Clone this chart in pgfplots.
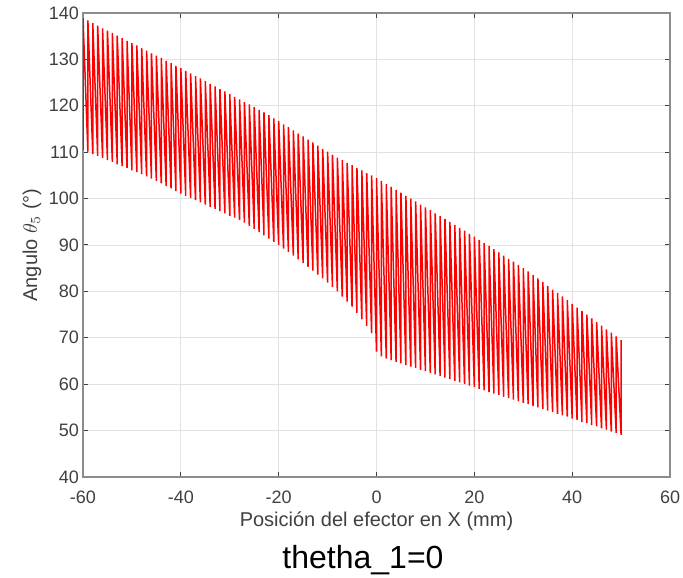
\documentclass[border=0pt]{standalone}
\usepackage{pgfplots}
\pgfplotsset{compat=1.18}
\usepackage{fontspec}
\setmainfont{Liberation Sans}

\definecolor{axgray}{RGB}{140,140,140}
\definecolor{txtgray}{RGB}{64,64,64}
\definecolor{gridgray}{RGB}{226,226,226}

\begin{document}
\begin{tikzpicture}
\begin{axis}[
    name=ax,
    scale only axis,
    width=293.5pt, height=232pt,
    xmin=-60, xmax=60, ymin=40, ymax=140,
    xtick={-60,-40,...,60},
    ytick={40,50,...,140},
    tick align=inside,
    major tick length=2.5pt,
    tick style={txtgray, line width=0.5pt},
    axis line style={axgray, line width=0.8pt},
    grid=major,
    grid style={gridgray, line width=0.4pt},
    ticklabel style={font=\fontsize{9}{11}\selectfont, text=txtgray},
    /pgf/number format/assume math mode=true,
    xticklabel style={yshift=-3.5pt},
    yticklabel style={xshift=1.5pt},
    xlabel={Posición del efector en X (mm)},
    ylabel={Angulo $\theta_5$ (°)},
    label style={font=\fontsize{10}{12}\selectfont, text=txtgray},
    xlabel style={yshift=3pt},
    ylabel style={yshift=-3pt},
]
% sawtooth: for each x the angle sweeps from the lower to the upper value
\addplot[red, line width=0.75pt] coordinates {
(-60,110.5)(-60,138.9)(-59,110.1)(-59,138.4)(-58,109.6)(-58,137.8)(-57,109.2)(-57,137.3)
(-56,108.8)(-56,136.7)(-55,108.3)(-55,136.2)(-54,107.9)(-54,135.7)(-53,107.4)(-53,135.1)
(-52,107.0)(-52,134.6)(-51,106.6)(-51,134.0)(-50,106.1)(-50,133.5)(-49,105.7)(-49,133.0)
(-48,105.3)(-48,132.4)(-47,104.8)(-47,131.9)(-46,104.3)(-46,131.3)(-45,103.8)(-45,130.8)
(-44,103.3)(-44,130.3)(-43,102.7)(-43,129.7)(-42,102.2)(-42,129.2)(-41,101.6)(-41,128.6)
(-40,101.1)(-40,128.1)(-39,100.6)(-39,127.5)(-38,100.1)(-38,127.0)(-37,99.7)(-37,126.4)
(-36,99.2)(-36,125.9)(-35,98.7)(-35,125.3)(-34,98.2)(-34,124.7)(-33,97.8)(-33,124.2)
(-32,97.3)(-32,123.6)(-31,96.8)(-31,123.1)(-30,96.3)(-30,122.5)(-29,95.9)(-29,121.9)
(-28,95.4)(-28,121.4)(-27,94.8)(-27,120.8)(-26,94.1)(-26,120.3)(-25,93.5)(-25,119.7)
(-24,92.8)(-24,119.1)(-23,92.1)(-23,118.6)(-22,91.4)(-22,118.0)(-21,90.7)(-21,117.3)
(-20,90.0)(-20,116.7)(-19,89.2)(-19,116.0)(-18,88.5)(-18,115.4)(-17,87.7)(-17,114.7)
(-16,86.9)(-16,114.0)(-15,86.1)(-15,113.4)(-14,85.3)(-14,112.7)(-13,84.5)(-13,112.1)
(-12,83.6)(-12,111.4)(-11,82.8)(-11,110.7)(-10,81.9)(-10,110.1)(-9,81.0)(-9,109.4)
(-8,80.0)(-8,108.8)(-7,78.9)(-7,108.3)(-6,77.8)(-6,107.7)(-5,76.7)(-5,107.2)
(-4,75.4)(-4,106.6)(-3,74.0)(-3,106.1)(-2,72.5)(-2,105.5)(-1,71.0)(-1,105.0)
(0,67.0)(0,104.4)(1,66.0)(1,103.8)(2,65.5)(2,103.1)(3,65.2)(3,102.5)
(4,64.8)(4,101.9)(5,64.5)(5,101.3)(6,64.1)(6,100.6)(7,63.8)(7,100.0)
(8,63.5)(8,99.4)(9,63.1)(9,98.7)(10,62.8)(10,98.1)(11,62.4)(11,97.5)
(12,62.1)(12,96.8)(13,61.8)(13,96.2)(14,61.4)(14,95.6)(15,61.1)(15,95.0)
(16,60.7)(16,94.3)(17,60.4)(17,93.7)(18,60.0)(18,93.1)(19,59.7)(19,92.4)
(20,59.4)(20,91.8)(21,59.0)(21,91.1)(22,58.7)(22,90.4)(23,58.3)(23,89.8)
(24,58.0)(24,89.1)(25,57.7)(25,88.4)(26,57.3)(26,87.7)(27,57.0)(27,87.0)
(28,56.7)(28,86.4)(29,56.3)(29,85.7)(30,56.0)(30,85.0)(31,55.7)(31,84.3)
(32,55.3)(32,83.5)(33,55.0)(33,82.8)(34,54.7)(34,82.0)(35,54.3)(35,81.2)
(36,54.0)(36,80.4)(37,53.6)(37,79.7)(38,53.3)(38,78.9)(39,53.0)(39,78.1)
(40,52.6)(40,77.3)(41,52.3)(41,76.5)(42,51.9)(42,75.8)(43,51.6)(43,75.0)
(44,51.2)(44,74.2)(45,50.9)(45,73.4)(46,50.5)(46,72.6)(47,50.2)(47,71.8)
(48,49.8)(48,71.1)(49,49.5)(49,70.3)(50,49.1)(50,69.5)
};
\end{axis}
% title set below the axis, as in the figure
\node[font=\fontsize{16}{18}\selectfont, anchor=base]
  at ([shift={(140pt,-45.5pt)}]ax.south west) {thetha\_1=0};
\pgfresetboundingbox
\path[use as bounding box] ([shift={(-41.5pt,-50pt)}]ax.south west)
  rectangle ([shift={(6.5pt,6.5pt)}]ax.north east);
\end{tikzpicture}
\end{document}
